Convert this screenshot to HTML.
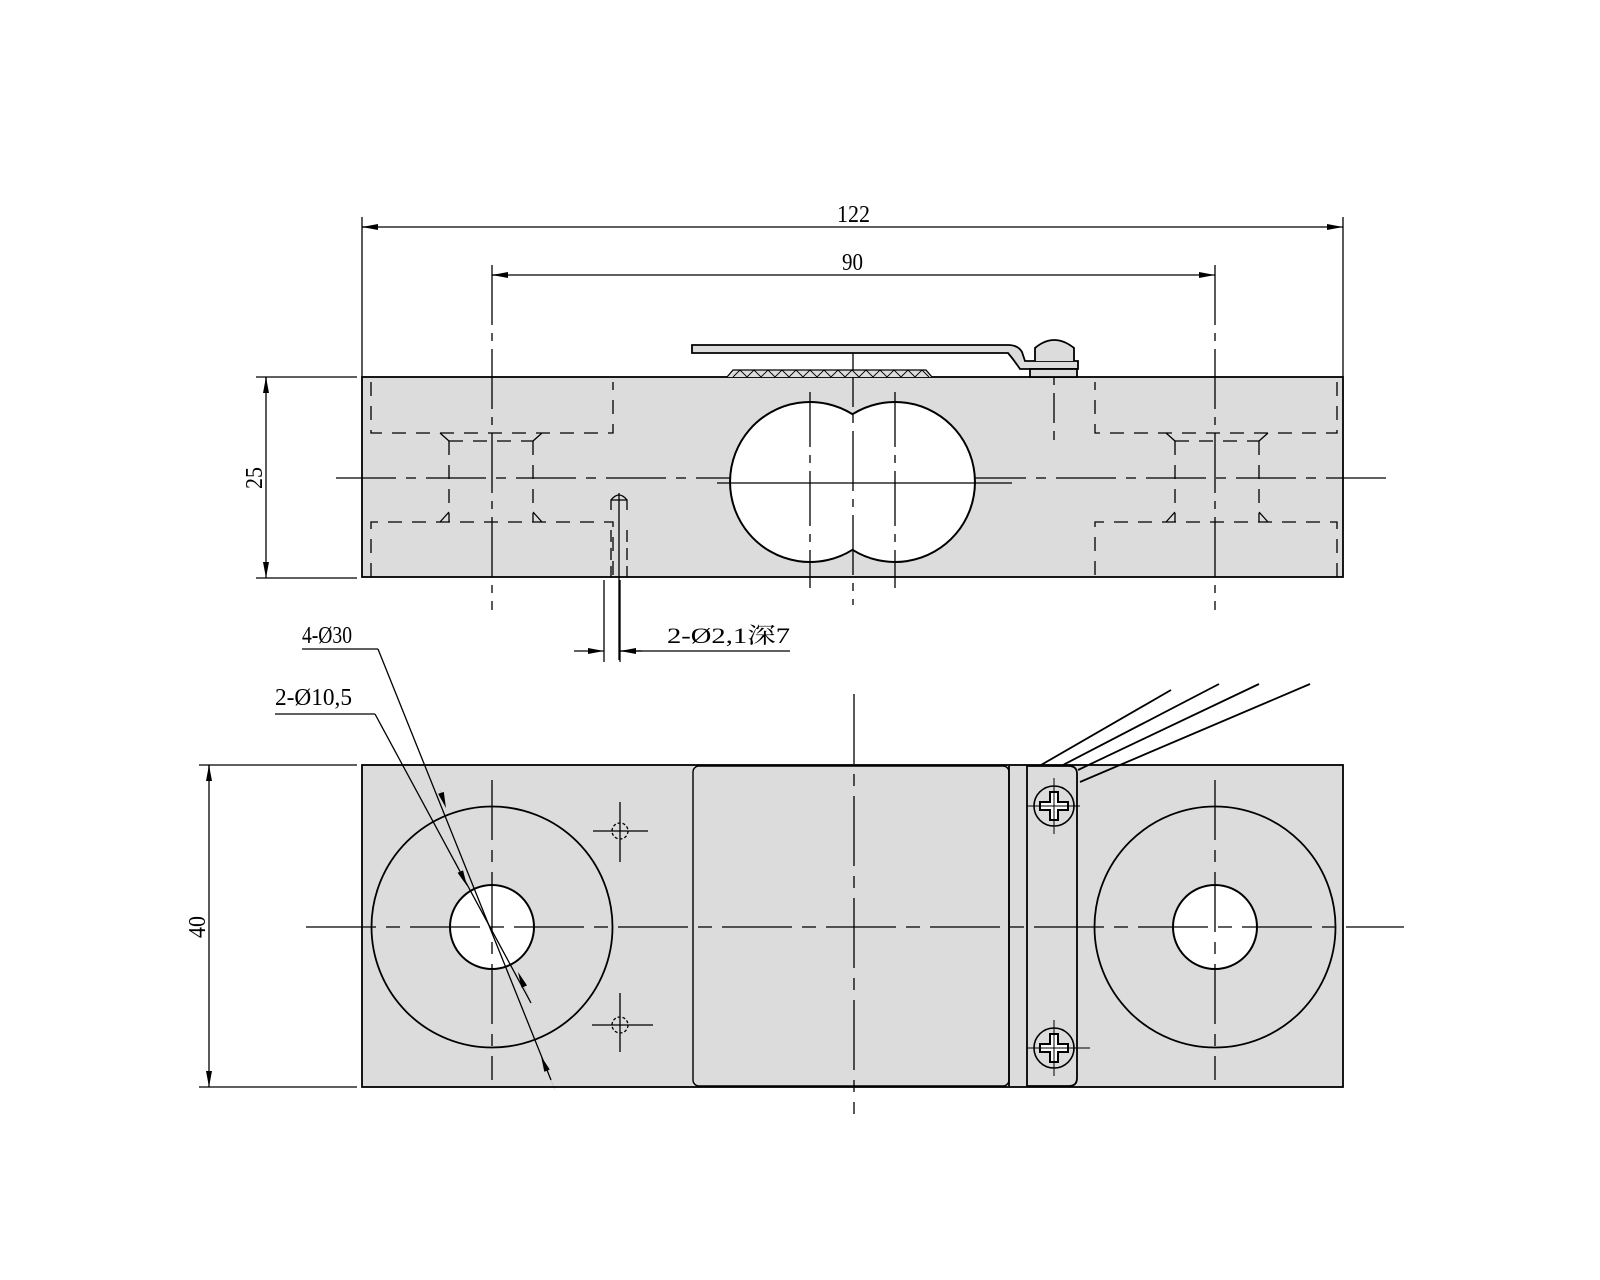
<!DOCTYPE html>
<html><head><meta charset="utf-8"><style>html,body{margin:0;padding:0;background:#fff}svg{display:block}</style></head>
<body>
<svg width="1600" height="1280" viewBox="0 0 1600 1280" xmlns="http://www.w3.org/2000/svg" font-family="'Liberation Serif','Noto Serif CJK SC',serif">
<defs>
<marker id="a" viewBox="0 0 16 6" refX="16" refY="3" markerWidth="16" markerHeight="6" markerUnits="userSpaceOnUse" orient="auto"><path d="M0,0 L16,3 L0,6 Z" fill="#000"/></marker>
</defs>
<g stroke="#000" fill="none" stroke-width="1.3">
<!-- TOP VIEW -->
<rect x="362" y="377" width="981" height="200" fill="#dcdcdc" stroke-width="1.8"/>
<line x1="362" y1="217" x2="362" y2="377"/>
<line x1="1343" y1="217" x2="1343" y2="377"/>
<line x1="362" y1="227" x2="1343" y2="227" marker-end="url(#a)"/>
<line x1="378" y1="227" x2="362" y2="227" marker-end="url(#a)"/>
<line x1="492" y1="275" x2="1215" y2="275" marker-end="url(#a)"/>
<line x1="508" y1="275" x2="492" y2="275" marker-end="url(#a)"/>
<line x1="256" y1="377" x2="357" y2="377"/>
<line x1="256" y1="578" x2="357" y2="578"/>
<line x1="266" y1="377" x2="266" y2="578" marker-end="url(#a)"/>
<line x1="266" y1="393" x2="266" y2="377" marker-end="url(#a)"/>
<line x1="336" y1="478" x2="1394" y2="478" stroke-dasharray="60,10,10,10"/>
<line x1="492" y1="265" x2="492" y2="610" stroke-dasharray="60,8,8,8"/>
<line x1="1215" y1="265" x2="1215" y2="610" stroke-dasharray="60,8,8,8"/>
<g stroke-dasharray="14,10">
<path d="M371,382 V433 H613 V382"/>
<path d="M371,577 V522 H613 V577"/>
<path d="M449,441 H533 M449,441 V522 M533,441 V522"/>
<path d="M1337,382 V433 H1095 V382"/>
<path d="M1337,577 V522 H1095 V577"/>
<path d="M1175,441 H1259 M1175,441 V522 M1259,441 V522"/>
</g>
<path d="M440,433 L449,441 M542,433 L533,441 M449,512 L440,522 M533,512 L542,522"/>
<path d="M1166,433 L1175,441 M1268,433 L1259,441 M1175,512 L1166,522 M1259,512 L1268,522"/>
<path d="M852.5,414.2 A80,80 0 1,0 852.5,549.8 A80,80 0 1,0 852.5,414.2 Z" fill="#fff" stroke-width="2"/>
<line x1="717" y1="483" x2="1012" y2="483"/>
<line x1="810" y1="392" x2="810" y2="588" stroke-dasharray="55,8,8,8"/>
<line x1="895" y1="392" x2="895" y2="588" stroke-dasharray="55,8,8,8"/>
<line x1="853" y1="347" x2="853" y2="605" stroke-dasharray="60,8,8,8"/>
<line x1="1054" y1="355" x2="1054" y2="440" stroke-dasharray="30,8"/>
<path d="M692,345 H1008 Q1018,345 1022,352 L1025,361 H1078 V369 H1020 Q1014,360 1008,353 H692 Z" fill="#dcdcdc" stroke-width="1.8"/>
<path d="M1035,361 V348 Q1054,332 1074,348 V361" fill="#dcdcdc" stroke-width="1.8"/>
<rect x="1030" y="369" width="47" height="8" fill="#dcdcdc" stroke-width="1.8"/>
<path d="M727,377 L733,370 H926 L932,377" fill="#dcdcdc"/>
<path d="M733,377 l7,-7 l7,7 l7,-7 l7,7 l7,-7 l7,7 l7,-7 l7,7 l7,-7 l7,7 l7,-7 l7,7 l7,-7 l7,7 l7,-7 l7,7 l7,-7 l7,7 l7,-7 l7,7 l7,-7 l7,7 l7,-7 l7,7 l7,-7 l7,7 l7,-7 l7,7" stroke-width="0.9"/>
<path d="M611,530 V577 M627,530 V577" stroke-dasharray="12,6"/>
<path d="M611,510 V500 Q619,490 627,500 V510 M611,500 H627"/>
<line x1="619" y1="493" x2="619" y2="660"/>
<line x1="604" y1="580" x2="604" y2="662"/>
<line x1="620" y1="580" x2="620" y2="662"/>
<line x1="574" y1="651" x2="604" y2="651" marker-end="url(#a)"/>
<line x1="790" y1="651" x2="620" y2="651"/>
<line x1="642" y1="651" x2="620" y2="651" marker-end="url(#a)"/>
<!-- BOTTOM VIEW -->
<rect x="362" y="765" width="981" height="322" fill="#dcdcdc" stroke-width="1.8"/>
<line x1="199" y1="765" x2="357" y2="765"/>
<line x1="199" y1="1087" x2="357" y2="1087"/>
<line x1="209" y1="765" x2="209" y2="1087" marker-end="url(#a)"/>
<line x1="209" y1="781" x2="209" y2="765" marker-end="url(#a)"/>
<rect x="693" y="766" width="316" height="320" rx="6" fill="#dcdcdc" stroke-width="1.4"/>
<line x1="1009" y1="766" x2="1009" y2="1086" stroke-width="1.8"/>
<path d="M1027,766 H1069 Q1077,766 1077,774 V1078 Q1077,1086 1069,1086 H1027 Z" fill="#dcdcdc" stroke-width="1.8"/>
<circle cx="492" cy="927" r="120.5" stroke-width="1.8"/>
<circle cx="492" cy="927" r="42" fill="#fff" stroke-width="2"/>
<circle cx="1215" cy="927" r="120.5" stroke-width="1.8"/>
<circle cx="1215" cy="927" r="42" fill="#fff" stroke-width="2"/>
<line x1="306" y1="927" x2="1404" y2="927" stroke-dasharray="70,10,14,10"/>
<line x1="492" y1="780" x2="492" y2="1080" stroke-dasharray="60,10,12,10"/>
<line x1="1215" y1="780" x2="1215" y2="1080" stroke-dasharray="60,10,12,10"/>
<line x1="854" y1="694" x2="854" y2="1114" stroke-dasharray="70,10,12,10"/>
<circle cx="620" cy="831" r="8" stroke-dasharray="3,2"/>
<circle cx="620" cy="1025" r="8" stroke-dasharray="3,2"/>
<path d="M593,831 H648 M620,802 V862 M592,1025 H653 M620,993 V1052"/>
<g stroke-width="1.6">
<circle cx="1054" cy="806" r="20" fill="#dcdcdc"/>
<path d="M1050,792 H1058 V802 H1068 V810 H1058 V820 H1050 V810 H1040 V802 H1050 Z" fill="#fff" stroke-width="2"/>
<circle cx="1054" cy="1048" r="20" fill="#dcdcdc"/>
<path d="M1050,1034 H1058 V1044 H1068 V1052 H1058 V1062 H1050 V1052 H1040 V1044 H1050 Z" fill="#fff" stroke-width="2"/>
</g>
<path d="M1027,806 H1080 M1054,778 V834 M1027,1048 H1090 M1054,1020 V1076" stroke-width="1"/>
<g stroke-width="1.8">
<line x1="1041" y1="765" x2="1171" y2="690"/>
<line x1="1063" y1="765" x2="1219" y2="684"/>
<line x1="1078" y1="770" x2="1259" y2="684"/>
<line x1="1080" y1="782" x2="1310" y2="684"/>
</g>
<line x1="302" y1="649" x2="378" y2="649"/>
<line x1="378" y1="649" x2="551" y2="1080"/>
<path d="M440,790 L446,808" marker-end="url(#a)" stroke-width="0.1"/>
<path d="M555,1090 L541,1056" marker-end="url(#a)" stroke-width="0.1"/>
<line x1="275" y1="714" x2="375" y2="714"/>
<line x1="375" y1="714" x2="531" y2="1003"/>
<path d="M455,860 L467,886" marker-end="url(#a)" stroke-width="0.1"/>
<path d="M530,1000 L518,972" marker-end="url(#a)" stroke-width="0.1"/>
</g>
<g font-size="24" fill="#000">
<text x="837" y="222" textLength="33" lengthAdjust="spacingAndGlyphs">122</text>
<text x="842" y="270" textLength="21" lengthAdjust="spacingAndGlyphs">90</text>
<text transform="translate(262,478) rotate(-90)" text-anchor="middle" textLength="22" lengthAdjust="spacingAndGlyphs">25</text>
<text transform="translate(205,927) rotate(-90)" text-anchor="middle" textLength="22" lengthAdjust="spacingAndGlyphs">40</text>
<text x="302" y="643" textLength="50" lengthAdjust="spacingAndGlyphs">4-Ø30</text>
<text x="275" y="705" textLength="77" lengthAdjust="spacingAndGlyphs">2-Ø10,5</text>
<text x="667" y="643" font-size="22" textLength="123" lengthAdjust="spacingAndGlyphs">2-Ø2,1深7</text>
</g>
</svg>
</body></html>
